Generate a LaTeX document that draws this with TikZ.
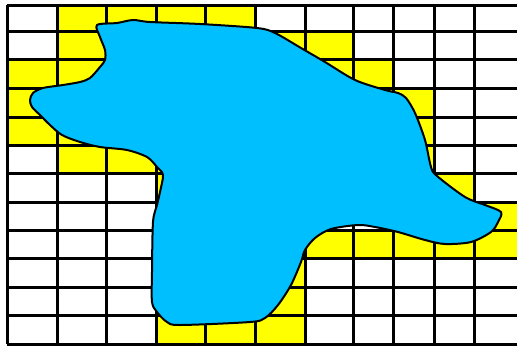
\documentclass[tikz,border=0pt]{standalone}
\usepackage{tikz}
\usetikzlibrary{backgrounds}
\usepackage{xcolor}

\definecolor{lakeblue}{RGB}{0,191,255}
\definecolor{edgeyellow}{RGB}{255,255,0}

\tikzset{
  gridline/.style={line width=3pt, black},
  edgecell/.style={fill=edgeyellow},
  lake/.style={fill=lakeblue, draw=black, line width=2pt, line join=round}
}

% cell borders, in pixels
\def\colxs{7,57,106,156,205,255,305,353,393,434,474,522}
\def\rowys{5,31,59,88,117,145,173,202,230,258,287,315,344}

\begin{document}
\begin{tikzpicture}[x=1pt, y=-1pt]
  \clip (0,0) rectangle (517,346);
  \fill[white] (0,0) rectangle (517,346);

  % yellow cells (row/column)
  \foreach \r/\c in {0/1,0/2,0/3,0/4,
                     1/1,1/2,1/3,1/4,1/5,1/6,
                     2/0,2/1,2/5,2/6,2/7,
                     3/0,3/7,3/8,
                     4/0,4/1,4/8,
                     5/1,5/2,5/3,5/8,
                     6/3,6/8,6/9,
                     7/3,7/9,7/10,
                     8/3,8/5,8/6,8/7,8/8,8/9,8/10,
                     9/3,9/5,
                     10/3,10/4,10/5,
                     11/3,11/4,11/5} {
    \pgfmathsetmacro{\xa}{{\colxs}[\c]}
    \pgfmathsetmacro{\xb}{{\colxs}[\c+1]}
    \pgfmathsetmacro{\ya}{{\rowys}[\r]}
    \pgfmathsetmacro{\yb}{{\rowys}[\r+1]}
    \fill[edgecell] (\xa,\ya) rectangle (\xb,\yb);
  }

  % grid
  \foreach \x in \colxs {
    \draw[gridline] (\x,5) -- (\x,344);
  }
  \foreach \y in \rowys {
    \draw[gridline] (7,\y) -- (522,\y);
  }

  % the lake
  \draw[lake] plot[smooth cycle, tension=0.5] coordinates {
    (97,25) (117,23) (133,20) (150,22) (200,24) (257,28) (275,33)
    (301,48) (325,62) (355,80) (385,90) (398,93) (406,98) (415,113)
    (425,140) (431,167) (437,176) (465,197) (485,205) (501,212)
    (498,222) (491,232) (471,242) (445,244) (425,240) (398,232)
    (375,227) (358,225) (331,229) (315,238) (305,250) (301,262)
    (291,285) (278,305) (265,318) (250,322) (180,325) (167,322)
    (157,312) (152,302) (152,272) (153,222) (157,205) (160,192)
    (163,175) (157,167) (147,157) (127,150) (100,147) (80,142)
    (62,135) (50,125) (40,115) (32,107) (30,100) (33,93) (43,88)
    (63,85) (80,82) (90,78) (100,67) (105,60) (105,50) (100,37)
  };
\end{tikzpicture}
\end{document}
